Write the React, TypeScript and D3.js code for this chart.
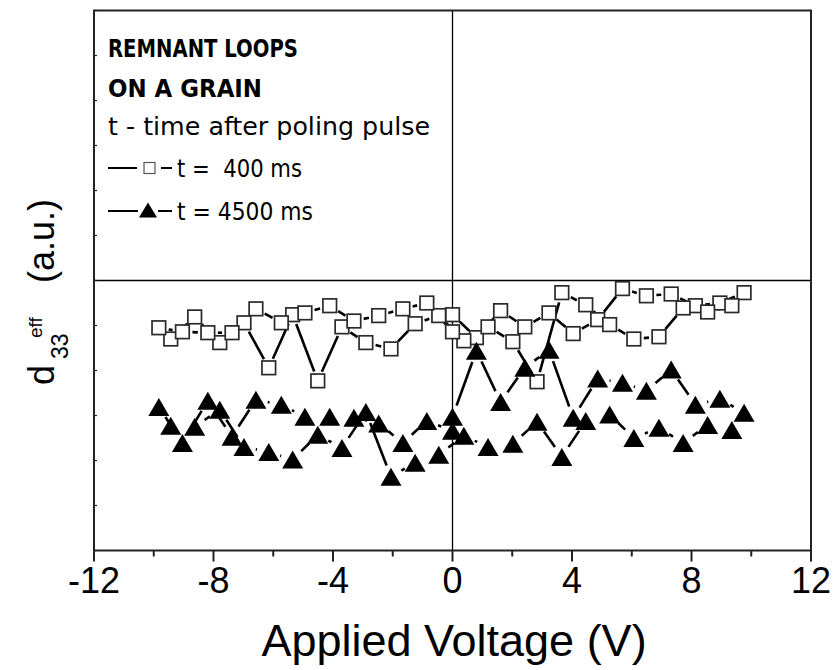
import React from "react";
import * as d3 from "d3";

// Voltage grid of the three sweeps (V)
const voltsUp = [0.0, 0.8, 1.61, 2.42, 3.23, 4.04, 4.86, 5.69, 6.49, 7.32, 8.13, 8.95, 9.76];
const voltsDown = [9.35, 8.54, 7.72, 6.91, 6.07, 5.26, 4.46, 3.66, 2.83, 2.02, 1.19, 0.38, -0.46, -1.25, -2.06, -2.9, -3.7, -4.51, -5.35, -6.15, -6.98, -7.79, -8.63, -9.43];
const voltsBack = [-9.83, -9.04, -8.19, -7.38, -6.58, -5.73, -4.94, -4.11, -3.3, -2.47, -1.66, -0.86, 0.0];

// t = 400 ms (open squares)
const sqUp = [-0.76, -1.27, -0.67, -1.03, -0.72, -1.18, -0.87, -0.18, -0.34, -0.3, -0.56, -0.5, -0.27];
const sqDown = [-0.56, -0.7, -0.61, -1.25, -1.3, -0.98, -0.54, -0.27, -2.25, -1.36, -1.03, -1.34, -0.78, -0.96, -1.52, -1.38, -1.03, -2.23, -0.76, -1.94, -0.94, -1.38, -0.81, -1.3];
const sqBack = [-1.05, -1.14, -1.16, -1.16, -0.63, -0.94, -0.72, -0.56, -0.9, -0.78, -0.63, -0.5, -1.14];

// t = 4500 ms (filled triangles)
const triUp = [-3.03, -1.56, -2.7, -1.94, -1.54, -3.05, -2.18, -2.27, -2.45, -1.98, -2.76, -2.63, -2.94];
const triDown = [-3.32, -3.21, -3.61, -3.27, -3.5, -2.98, -3.12, -3.92, -3.14, -3.63, -3.7, -3.45, -3.87, -4.05, -4.36, -2.92, -3.72, -3.43, -3.98, -3.81, -3.7, -2.87, -3.25, -3.23];
const triBack = [-2.81, -3.61, -2.67, -3.47, -2.65, -2.76, -3.03, -3.03, -3.05, -3.18, -3.61, -3.12, -3.34];

const xMajor = [-12, -8, -4, 0, 4, 8, 12];
const xMinor = [-10, -6, -2, 2, 6, 10];
const yTicks = [-6, -5, -4, -3, -2, -1, 0, 1, 2, 3, 4, 5, 6];

const W = 833, H = 670;
const L = 94, R = 811, T = 10.5, B = 550.5;

const x = d3.scaleLinear().domain([-12, 12]).range([L, R]);
const y = d3.scaleLinear().domain([-6, 6]).range([B, T]);

type P = { x: number; y: number };
function series(vals: number[][]): P[] {
  const volts = [voltsUp, voltsDown, voltsBack];
  const out: P[] = [];
  vals.forEach((arr, k) => arr.forEach((v, i) => out.push({ x: x(volts[k][i]), y: y(v) })));
  return out;
}

function segments(pts: P[], gap: number) {
  const segs: { x1: number; y1: number; x2: number; y2: number }[] = [];
  for (let i = 0; i < pts.length - 1; i++) {
    const a = pts[i], b = pts[i + 1];
    const dx = b.x - a.x, dy = b.y - a.y;
    const d = Math.hypot(dx, dy);
    if (d <= 2 * gap + 1) continue;
    const ux = dx / d, uy = dy / d;
    segs.push({ x1: a.x + ux * gap, y1: a.y + uy * gap, x2: b.x - ux * gap, y2: b.y - uy * gap });
  }
  return segs;
}

const sqPts = series([sqUp, sqDown, sqBack]);
const triPts = series([triUp, triDown, triBack]);

const triPath = (cx: number, cy: number, w: number, h: number) =>
  `M${cx - w / 2},${cy + h / 2}L${cx + w / 2},${cy + h / 2}L${cx},${cy - h / 2}Z`;

const legendFont = "'Comic Sans MS', 'DejaVu Sans', sans-serif";
const axisFont = "Arial, 'Liberation Sans', sans-serif";

export default function App() {
  return (
    <svg width={W} height={H} style={{ position: "absolute", left: 0, top: 0, background: "#fff" }}>
      <rect x={0} y={0} width={W} height={H} fill="#fff" />
      {/* zero lines */}
      <line x1={L} x2={R} y1={y(0)} y2={y(0)} stroke="#000" strokeWidth={1.3} />
      <line x1={x(0)} x2={x(0)} y1={T} y2={B} stroke="#000" strokeWidth={1.3} />

      {/* connecting lines */}
      {segments(sqPts, 10).map((s, i) => (
        <line key={"sl" + i} {...s} stroke="#000" strokeWidth={2.6} />
      ))}
      {segments(triPts, 12).map((s, i) => (
        <line key={"tl" + i} {...s} stroke="#000" strokeWidth={2.6} />
      ))}

      {/* markers */}
      {sqPts.map((p, i) => (
        <rect key={"s" + i} x={p.x - 6.8} y={p.y - 6.8} width={13.6} height={13.6} fill="#fff" stroke="#2a2a2a" strokeWidth={1.7} />
      ))}
      {triPts.map((p, i) => (
        <path key={"t" + i} d={triPath(p.x, p.y, 21, 18)} fill="#000" />
      ))}

      {/* frame */}
      <rect x={L} y={T} width={R - L} height={B - T} fill="none" stroke="#222" strokeWidth={2} />

      {/* y ticks (inward, unlabeled) */}
      {yTicks.map((t, i) => (
        <line key={"yt" + i} x1={L} x2={L + 3} y1={y(t)} y2={y(t)} stroke="#222" strokeWidth={1.2} />
      ))}

      {/* x ticks */}
      {xMajor.map((t) => (
        <line key={"xm" + t} x1={x(t)} x2={x(t)} y1={B} y2={B + 11} stroke="#222" strokeWidth={2} />
      ))}
      {xMinor.map((t) => (
        <line key={"xn" + t} x1={x(t)} x2={x(t)} y1={B} y2={B + 6} stroke="#222" strokeWidth={2} />
      ))}
      {xMajor.map((t) => (
        <text key={"xl" + t} x={x(t)} y={593} textAnchor="middle" fontFamily={axisFont} fontSize={36} fill="#000">
          {String(t)}
        </text>
      ))}

      <text x={454} y={656} textAnchor="middle" fontFamily={axisFont} fontSize={45} fill="#000">
        Applied Voltage (V)
      </text>

      {/* y label */}
      <g transform="translate(54,385) rotate(-90)" fontFamily={axisFont} fill="#000">
        <text x={0} y={0} fontSize={36}>d</text>
        <text x={26} y={14} fontSize={23}>33</text>
        <text x={47} y={-12} fontSize={19}>eff</text>
        <text x={102} y={0} fontSize={36}>(a.u.)</text>
      </g>

      {/* legend */}
      <g fontFamily={legendFont} fill="#000">
        <text x={108} y={57} fontSize={24} fontWeight="bold" textLength={190} lengthAdjust="spacingAndGlyphs">REMNANT LOOPS</text>
        <text x={108} y={97} fontSize={24} fontWeight="bold" textLength={154} lengthAdjust="spacingAndGlyphs">ON A GRAIN</text>
        <text x={108} y={135} fontSize={24} textLength={322} lengthAdjust="spacingAndGlyphs">t - time after poling pulse</text>

        <line x1={108} x2={137} y1={168} y2={168} stroke="#000" strokeWidth={2} />
        <rect x={144} y={162.5} width={11} height={11} fill="#fff" stroke="#555" strokeWidth={1.2} />
        <line x1={161} x2={172} y1={168} y2={168} stroke="#000" strokeWidth={2} />
        <text x={177} y={177} fontSize={24} textLength={125} lengthAdjust="spacingAndGlyphs" style={{ whiteSpace: "pre" }}>{"t =  400 ms"}</text>

        <line x1={108} x2={138} y1={211} y2={211} stroke="#000" strokeWidth={2} />
        <path d={triPath(148, 210, 18, 15)} fill="#000" />
        <line x1={158} x2={172} y1={211} y2={211} stroke="#000" strokeWidth={2} />
        <text x={177} y={220} fontSize={24} textLength={136} lengthAdjust="spacingAndGlyphs">t = 4500 ms</text>
      </g>
    </svg>
  );
}
